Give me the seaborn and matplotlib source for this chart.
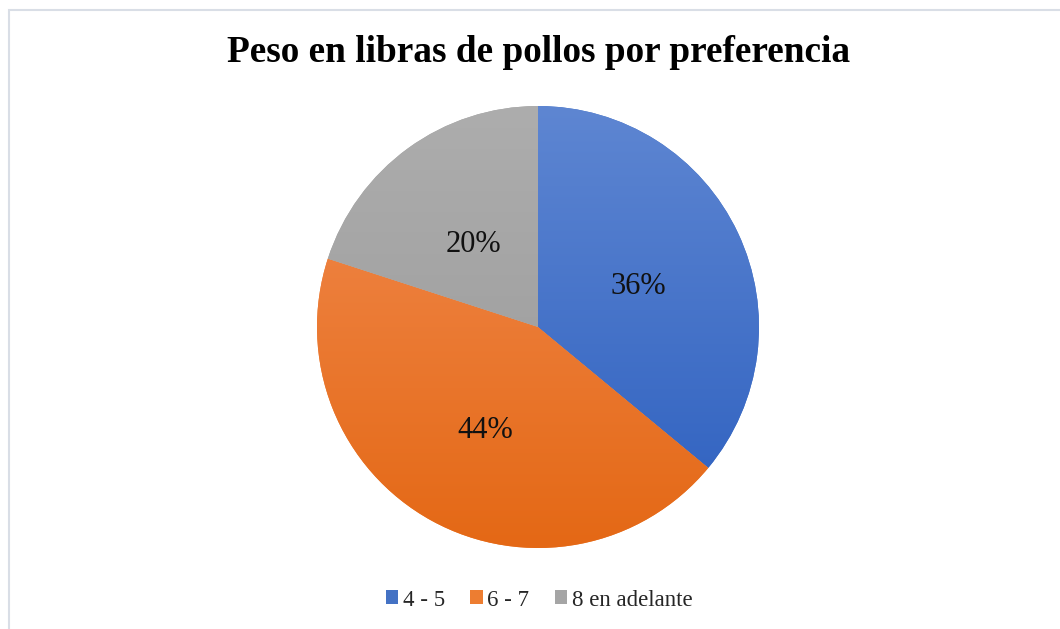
import numpy as np
import matplotlib
matplotlib.use("Agg")
import matplotlib.pyplot as plt
import seaborn as sns
from matplotlib.colors import LinearSegmentedColormap
from matplotlib.patches import Rectangle

title = "Peso en libras de pollos por preferencia"
categories = ["4 - 5", "6 - 7", "8 en adelante"]
values = [36, 44, 20]
top_colors = ["#5E86D2", "#F28C52", "#ADADAD"]
bottom_colors = ["#2C5FBF", "#E46815", "#989898"]
base_colors = ["#4472C4", "#ED7D31", "#A5A5A5"]

sns.set_theme(style="white")
plt.rcParams["font.family"] = ["Liberation Serif", "DejaVu Serif"]

fig = plt.figure(figsize=(10.6, 6.29), dpi=100)
fig.patch.set_facecolor("white")

# light border of chart area
fig.patches.append(Rectangle((9 / 1060, -0.1), 1.2, (629 - 10) / 629 + 0.1,
                             transform=fig.transFigure, fill=False,
                             edgecolor="#D9DEE6", linewidth=1.5))

cx, cy, r = 538, 327, 221
ax = fig.add_axes([(cx - r) / 1060, (629 - cy - r) / 629, 2 * r / 1060, 2 * r / 629])

wedges, texts, autotexts = ax.pie(
    values, colors=base_colors, startangle=90, counterclock=False,
    autopct="%1.0f%%", pctdistance=0.5, radius=1,
    wedgeprops=dict(linewidth=0),
    textprops=dict(fontsize=22, color="#111111"))

grad = np.linspace(0, 1, 256).reshape(-1, 1)
for w, tc, bc in zip(wedges, top_colors, bottom_colors):
    cmap = LinearSegmentedColormap.from_list("g", [bc, tc])
    im = ax.imshow(grad, extent=[-1, 1, -1, 1], origin="lower", cmap=cmap,
                   aspect="auto", zorder=w.get_zorder() + 0.1)
    im.set_clip_path(w)
for t in autotexts:
    t.set_zorder(5)
    x, y = t.get_position()
    t.set_position((x, y - 7 / r))

ax.set_xlim(-1, 1)
ax.set_ylim(-1, 1)
ax.set_aspect("equal")
ax.axis("off")

fig.text(539 / 1060, 1 - 52 / 629, title, ha="center", va="center",
         fontsize=26.8, fontweight="bold", color="black")

leg = fig.legend(wedges, categories, loc="center", bbox_to_anchor=(539 / 1060, 1 - 600 / 629),
                 ncol=3, frameon=False, fontsize=16.5, handlelength=0.55, handleheight=0.55,
                 handletextpad=0.2, columnspacing=1.1)

fig.savefig("out.png", dpi=100, facecolor="white")
